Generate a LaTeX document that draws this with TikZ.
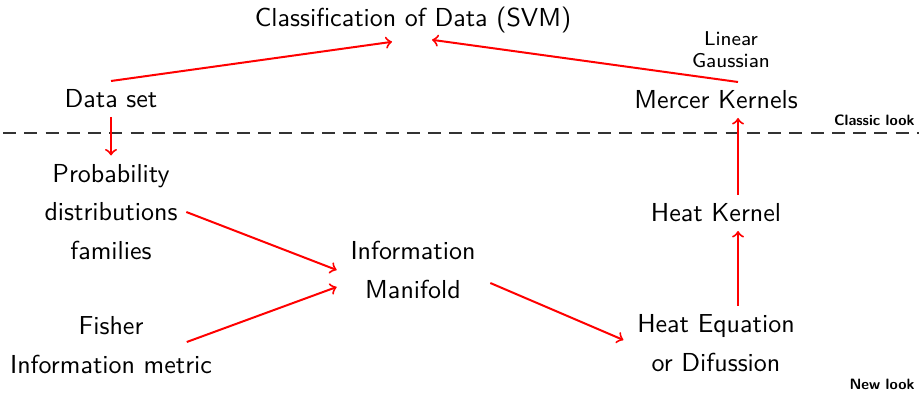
\documentclass[tikz,border=0pt]{standalone}
\usepackage{fontspec}
\usetikzlibrary{calc}
\begin{document}
\begin{tikzpicture}[x=0.4pt,y=-0.4pt,
  lbl/.style={font=\sffamily\fontsize{10.4}{15.4}\selectfont, align=center, inner sep=3.333pt},
  small/.style={font=\sffamily\fontsize{8}{8.7}\selectfont, align=center},
  look/.style={font=\sffamily\bfseries\fontsize{6}{7}\selectfont, anchor=base east, inner sep=0pt},
  link/.style={red, line width=0.8pt, ->},
  sep/.style={draw=black!80, line width=0.6pt, dash pattern=on 5.2pt off 3.3pt}]
\useasboundingbox (0,0) rectangle (919,398);

% classic part
\node[lbl] (title) at (413,20) {Classification of Data (SVM)};
\node[lbl] (data) at (111,99) {Data set};
\node[small] (kinds) at (731,50) {Linear\\Gaussian};
\node[lbl] (mercer) at (716,100) {Mercer Kernels};

% separation between the two views
\draw[sep] (3,133) -- (919,133);
\node[look] (classic) at (915,126) {Classic look};

% new part
\node[lbl] (prob) at (111,212) {Probability\\distributions\\families};
\node[lbl] (manif) at (413,270) {Information\\Manifold};
\node[lbl] (fisher) at (111,345) {Fisher\\Information metric};
\node[lbl] (hk) at (716,213) {Heat Kernel};
\node[lbl] (heq) at (716,343) {Heat Equation\\or Difussion};
\node[look] (newlook) at (915,390) {New look};

% connectors
\draw[link] (data.north) -- ($(title.south)+(-21,0)$);
\draw[link] ($(mercer.north)+(22,0)$) -- ($(title.south)+(19,-2)$);
\draw[link] (data.south) -- (prob.north);
\draw[link] (prob.east) -- ($(manif.west)+(-5,0)$);
\draw[link] ($(fisher.east)+(-34,-3)$) -- ($(manif.west)+(-5,17)$);
\draw[link] ($(manif.east)+(6,13)$) -- ($(heq.west)+(-5,-3)$);
\draw[link] ($(heq.north)+(22,0)$) -- ($(hk.south)+(22,0)$);
\draw[link] ($(hk.north)+(22,0)$) -- ($(mercer.south)+(22,0)$);
\end{tikzpicture}
\end{document}
